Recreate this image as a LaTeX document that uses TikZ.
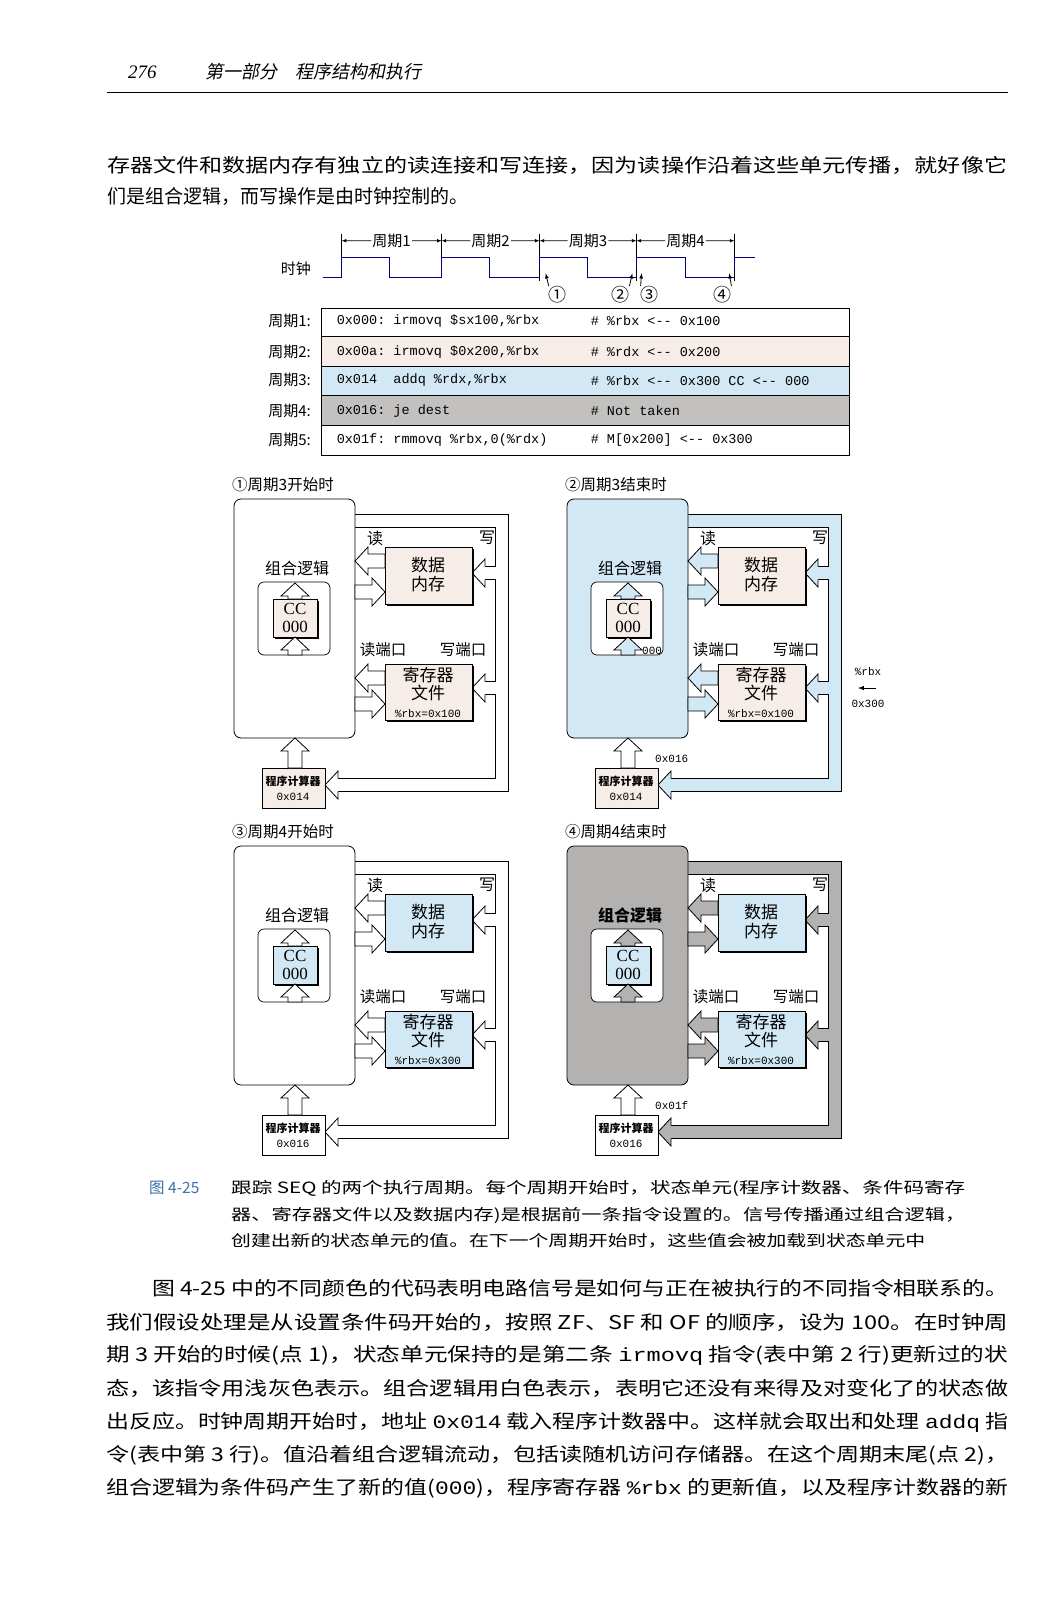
\documentclass[tikz,border=0pt]{standalone}
\usepackage{fontspec}
\setmainfont{Liberation Serif}
\setmonofont{Liberation Mono}
\newfontfamily\cjk{Noto Sans CJK SC}
\newfontfamily\cjki{Noto Sans CJK SC}[FakeSlant=0.2]
\definecolor{pk}{HTML}{F6EDE9}
\definecolor{bl}{HTML}{D3E8F5}
\definecolor{gr}{HTML}{B4B2B0}
\definecolor{capblue}{HTML}{3D6FA8}
\newcommand\arL[4]{\filldraw[fill=#4,line width=.8pt,line join=miter] (#1,#3) -- (#1+13,#3-14) -- (#1+13,#3-7) -- (#2,#3-7) -- (#2,#3+7) -- (#1+13,#3+7) -- (#1+13,#3+14) -- cycle;}
\newcommand\arR[4]{\filldraw[fill=#4,line width=.8pt,line join=miter] (#2,#3) -- (#2-13,#3-14) -- (#2-13,#3-7) -- (#1,#3-7) -- (#1,#3+7) -- (#2-13,#3+7) -- (#2-13,#3+14) -- cycle;}
\newcommand\arU[4]{\filldraw[fill=#4,line width=.8pt,line join=miter] (#1,#2) -- (#1+14,#2+13) -- (#1+7,#2+13) -- (#1+7,#3) -- (#1-7,#3) -- (#1-7,#2+13) -- (#1-14,#2+13) -- cycle;}
\newcommand\lhead[3]{\fill[#3] (#1-0.5,#2) -- (#1+13,#2-14) -- (#1+13,#2+14) -- cycle;
 \draw[line width=.8pt,line join=miter] (#1+13,#2-6.5) -- (#1+13,#2-14) -- (#1,#2) -- (#1+13,#2+14) -- (#1+13,#2+6.5);}
% panel: dx dy combo loop box cc pc rbx pcval
\newcommand\seqpanel[9]{%
\begin{scope}[shift={(#1,#2)}]
 \draw[line width=13.6pt,line join=miter] (355,521) -- (502,521) -- (502,785) -- (338,785) (502,573) -- (485,573) (502,688) -- (485,688);
 \draw[#4,line width=12pt,line join=miter] (355,521) -- (502,521) -- (502,785) -- (338,785) (502,573) -- (485,573) (502,688) -- (485,688);
 \lhead{472}{573}{#4}\lhead{472}{688}{#4}\lhead{325}{785}{#4}
 \filldraw[fill=#3,rounded corners=7pt,line width=.8pt] (234,499) rectangle (355,738);
 \filldraw[fill=white,rounded corners=6pt,line width=.7pt] (258,582) rectangle (330,655);
 \fill (387,549) rectangle (474,606); \filldraw[fill=#5,line width=.7pt] (385,547) rectangle (472,604);
 \fill (387,666) rectangle (474,722); \filldraw[fill=#5,line width=.7pt] (385,664) rectangle (472,720);
 \fill (275,601) rectangle (319,639); \filldraw[fill=#6,line width=.7pt] (273,599) rectangle (317,637);
 \filldraw[fill=#7,line width=.7pt] (262,768) rectangle (325,808);
 \arL{355}{385}{561}{#3}\arR{355}{385}{592}{#3}
 \arL{355}{385}{678}{#3}\arR{355}{385}{704}{#3}
 \arU{295}{583}{599}{#3}\arU{295}{637}{655}{#3}
 \arU{295}{738}{768}{white}
 \node[fs17] (rd) at (375,538) {读};
 \node[fs17] (wr) at (487,538) {写};
 \node[fs16] (rp) at (383,650) {读端口};
 \node[fs16] (wp) at (463,650) {写端口};
 \node[fs18,align=center] (dm) at (428,575) {数据\\[0pt]内存};
 \node[fs18,align=center] (rf) at (428,684) {寄存器\\[-1pt]文件};
 \node[font=\ttfamily\fontsize{11}{11}\selectfont,inner sep=0pt] (rb) at (428,714) {\%rbx=#8};
 \node[font=\fontsize{17}{17}\selectfont,align=center,inner sep=0pt] (cc) at (295,618) {CC\\[1pt]000};
 \node[font=\cjk\bfseries\fontsize{11}{11}\selectfont,inner sep=0pt] (pcl) at (293,781) {程序计算器};
 \node[font=\ttfamily\fontsize{11}{11}\selectfont,inner sep=0pt] (pcv) at (293,797) {#9};
\end{scope}}
\tikzset{fs17/.style={font=\cjk\fontsize{16}{16}\selectfont},
 fs18/.style={font=\cjk\fontsize{17}{19}\selectfont},fs16/.style={font=\cjk\fontsize{15.5}{16}\selectfont},
 code/.style={font=\ttfamily\fontsize{13.5}{14}\selectfont,anchor=west,inner sep=0pt},
 rowl/.style={font=\cjk\fontsize{15}{15}\selectfont,anchor=east,inner sep=0pt},
 body/.style={font=\cjk\fontsize{19}{19}\selectfont,anchor=west,inner sep=0pt},
 capt/.style={font=\cjk\fontsize{15.5}{16}\selectfont,anchor=west,inner sep=0pt},
 ptitle/.style={font=\cjk\fontsize{15.5}{16}\selectfont,anchor=west,inner sep=0pt},
 small/.style={font=\ttfamily\fontsize{11}{11}\selectfont,inner sep=0pt},
 tl/.style={font=\cjk\fontsize{15}{15}\selectfont,inner sep=1pt}}
\newcommand\jl[2]{\resizebox{#1pt}{\height}{#2}}
\begin{document}
\begin{tikzpicture}[x=1pt,y=-1pt]
\fill[white] (0,0) rectangle (1060,1600);
\useasboundingbox (0,0) rectangle (1060,1600);
% header
\node[font=\itshape\fontsize{19}{19}\selectfont,anchor=base west,inner sep=0pt] (pg) at (128,79) {276};
\node[font=\cjki\fontsize{18}{18}\selectfont,anchor=base west,inner sep=0pt] (hd) at (205,79) {第一部分\quad 程序结构和执行};
\draw[line width=.8pt] (107,92) -- (1008,92);
\node[body] (t1) at (107,165) {\jl{900}{存器文件和数据内存有独立的读连接和写连接，因为读操作沿着这些单元传播，就好像它}};
\node[body] (t2) at (107,196) {们是组合逻辑，而写操作是由时钟控制的。};
% timing
\begin{scope}[shift={(2,2.5)},xscale=1.02,yscale=1.018]
\node[tl] (clk) at (288,262) {时钟};
\draw[blue!50!black,line width=.7pt] (315,270) -- (333,270) -- (333,250) -- (380,250) -- (380,270) -- (431,270) -- (431,250) -- (478,250) -- (478,270) -- (527,270) -- (527,250) -- (574,250) -- (574,270) -- (622,270) -- (622,250) -- (670,250) -- (670,270) -- (718,270) -- (718,250) -- (738,250);
\foreach \x in {333,431,527,622,718} \draw[line width=.6pt] (\x,227) -- (\x,250);
\foreach \x in {527,622,718} \draw[line width=.6pt] (\x,262) -- (\x,274);
\foreach \a/\b/\n in {333/431/1,431/527/2,527/622/3,622/718/4}{
 \node[tl] (p\n) at ({(\a+\b)/2},234) {周期\n};
 \draw[-latex,line width=.6pt] (p\n.west) -- (\a,234);
 \draw[-latex,line width=.6pt] (p\n.east) -- (\b,234);}
\foreach \x/\t/\n in {545/①/1,606/②/2,635/③/3,706/④/4}
 \node[font=\cjk\fontsize{18}{18}\selectfont,inner sep=0pt] (c\n) at (\x,287) {\t};
\draw[-latex,line width=.8pt] (c1.north west) -- (533,266);
\draw[-latex,line width=.8pt] (c2.north east) -- (618,266);
\draw[-latex,line width=.8pt] (c3.north west) -- (627,266);
\draw[-latex,line width=.8pt] (c4.north east) -- (713,266);
% table
\fill[pk] (313,328) rectangle (831,357);
\fill[bl] (313,357) rectangle (831,386);
\fill[gr!80] (313,386) rectangle (831,415);
\draw[line width=.7pt] (313,300) rectangle (831,445);
\foreach \y in {328,357,386,415} \draw[line width=.6pt] (313,\y) -- (831,\y);
\foreach \y/\n in {313/1,343/2,371/3,401/4,430/5} \node[rowl] (r\n) at (303,\y) {周期\n:};
\node[code] (a1) at (328,313) {0x000: irmovq \$sx100,\%rbx};
\node[code] (b1) at (577,313) {\# \%rbx <-{}- 0x100};
\node[code] (a2) at (328,343) {0x00a: irmovq \$0x200,\%rbx};
\node[code] (b2) at (577,343) {\# \%rdx <-{}- 0x200};
\node[code] (a3) at (328,371) {0x014\ \ addq \%rdx,\%rbx};
\node[code] (b3) at (577,371) {\# \%rbx <-{}- 0x300 CC <-{}- 000};
\node[code] (a4) at (328,401) {0x016: je dest};
\node[code] (b4) at (577,401) {\# Not taken};
\node[code] (a5) at (328,430) {0x01f: rmmovq \%rbx,0(\%rdx)};
\node[code] (b5) at (577,430) {\# M[0x200] <-{}- 0x300};
\end{scope}
% panels
\seqpanel{0}{0}{white}{white}{pk}{pk}{pk}{0x100}{0x014}
\seqpanel{333}{0}{bl}{bl}{pk}{pk}{pk}{0x100}{0x014}
\seqpanel{0}{347}{white}{white}{bl}{bl}{white}{0x300}{0x016}
\seqpanel{333}{347}{gr}{gr}{bl}{bl}{white}{0x300}{0x016}
\node[ptitle] (h1) at (232,485) {①周期3开始时};
\node[ptitle] (h2) at (565,485) {②周期3结束时};
\node[ptitle] (h3) at (232,832) {③周期4开始时};
\node[ptitle] (h4) at (565,832) {④周期4结束时};
\node[fs17,fill=white,inner sep=0pt] (c1l) at (297,568) {组合逻辑};
\node[fs17,fill=bl,inner sep=0pt] (c2l) at (630,568) {组合逻辑};
\node[fs17,fill=white,inner sep=0pt] (c3l) at (297,915) {组合逻辑};
\node[font=\cjk\bfseries\fontsize{16}{16}\selectfont,inner sep=0pt] (c4l) at (630,915) {组合逻辑};
\node[small,anchor=west] (z2) at (642,651) {000};
\node[small,anchor=west] (v2) at (655,759) {0x016};
\node[small,anchor=west] (v4) at (655,1106) {0x01f};
\node[small] (x1) at (868,672) {\%rbx};
\node[small] (x3) at (868,704) {0x300};
\draw[-latex,line width=1pt] (876,688) -- (858,688);
% caption
\node[capt,text=capblue] (cf) at (149,1188) {图 4-25};
\node[capt] (k1) at (231,1188) {\jl{734}{跟踪 SEQ 的两个执行周期。每个周期开始时，状态单元(程序计数器、条件码寄存}};
\node[capt] (k2) at (231,1215) {\jl{734}{器、寄存器文件以及数据内存)是根据前一条指令设置的。信号传播通过组合逻辑，}};
\node[capt] (k3) at (231,1241) {\jl{694}{创建出新的状态单元的值。在下一个周期开始时，这些值会被加载到状态单元中}};
% body
\node[body] (l1) at (152,1288) {\jl{856}{图 4-25 中的不同颜色的代码表明电路信号是如何与正在被执行的不同指令相联系的。}};
\node[body] (l2) at (106,1322) {\jl{902}{我们假设处理是从设置条件码开始的，按照 ZF、SF 和 OF 的顺序，设为 100。在时钟周}};
\node[body] (l3) at (106,1355) {\jl{902}{期 3 开始的时候(点 1)，状态单元保持的是第二条 \texttt{irmovq} 指令(表中第 2 行)更新过的状}};
\node[body] (l4) at (106,1388) {\jl{902}{态，该指令用浅灰色表示。组合逻辑用白色表示，表明它还没有来得及对变化了的状态做}};
\node[body] (l5) at (106,1422) {\jl{902}{出反应。时钟周期开始时，地址 \texttt{0x014} 载入程序计数器中。这样就会取出和处理 \texttt{addq} 指}};
\node[body] (l6) at (106,1455) {\jl{902}{令(表中第 3 行)。值沿着组合逻辑流动，包括读随机访问存储器。在这个周期末尾(点 2)，}};
\node[body] (l7) at (106,1488) {\jl{902}{组合逻辑为条件码产生了新的值(\texttt{000})，程序寄存器 \texttt{\%rbx} 的更新值，以及程序计数器的新}};
\end{tikzpicture}
\end{document}
